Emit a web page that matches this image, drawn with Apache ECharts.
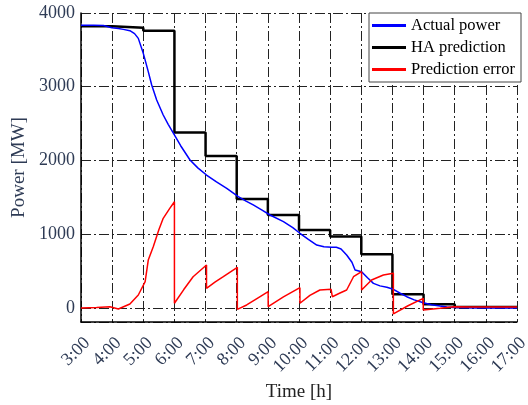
<!DOCTYPE html>
<html>
<head>
<meta charset="utf-8">
<script src="https://cdn.jsdelivr.net/npm/echarts@6/dist/echarts.min.js"></script>
<style>html,body{margin:0;padding:0;background:#fff}#c{width:528px;height:405px}</style>
</head>
<body>
<div id="c"></div>
<script>
// Time in hours, power in MW
const actualT = [3.0, 3.4, 3.72, 3.99, 4.2, 4.36, 4.57, 4.72, 4.84, 5.0, 5.08, 5.16, 5.27, 5.43, 5.64, 5.8, 5.97, 6.2, 6.5, 6.75, 7.03, 7.35, 7.68, 8.05, 8.3, 8.53, 8.8, 9.07, 9.5, 9.8, 10.03, 10.3, 10.57, 10.8, 11.05, 11.2, 11.35, 11.53, 11.7, 11.8, 12.01, 12.2, 12.39, 12.6, 12.82, 13.03, 13.25, 13.46, 13.7, 13.99, 14.25, 14.53, 14.75, 14.96, 15.3, 16.0, 17.0];
const actualP = [3835, 3835, 3830, 3800, 3790, 3778, 3760, 3720, 3656, 3453, 3330, 3205, 3024, 2820, 2617, 2490, 2369, 2200, 2007, 1900, 1803, 1710, 1623, 1510, 1450, 1397, 1330, 1261, 1170, 1090, 1013, 930, 854, 830, 823, 823, 800, 718, 620, 515, 492, 410, 334, 300, 280, 253, 200, 153, 110, 72, 45, 27, 14, 5, 2, 0, 0];

const haT = [3, 4, 5, 6, 7, 8, 9, 10, 11, 12, 13, 14, 15, 17];
const haP = [3820, 3800, 3760, 2380, 2060, 1478, 1261, 1058, 968, 728, 186, 50, 15, 15];

const errT = [3.0, 3.5, 3.93, 4.2, 4.57, 4.84, 5.06, 5.16, 5.32, 5.5, 5.64, 5.85, 6.0, 6.0, 6.3, 6.6, 7.03, 7.03, 7.3, 7.57, 8.02, 8.02, 8.32, 8.7, 9.01, 9.01, 9.5, 10.03, 10.03, 10.35, 10.67, 11.03, 11.07, 11.1, 11.3, 11.53, 11.75, 12.01, 12.01, 12.33, 12.71, 13.03, 13.03, 13.5, 13.99, 13.99, 14.53, 14.96, 15.5, 17.0];
const errP = [0, 5, 18, -14, 54, 176, 357, 650, 831, 1060, 1216, 1350, 1441, 64, 250, 424, 583, 267, 350, 424, 552, -18, 41, 140, 221, 18, 150, 275, 64, 170, 244, 253, 153, 160, 200, 244, 424, 492, 244, 380, 447, 470, -80, 30, 131, -27, -5, 18, 15, 15];

const seriesNames = ['Actual power', 'HA prediction', 'Prediction error'];
const xTickHours = [3, 4, 5, 6, 7, 8, 9, 10, 11, 12, 13, 14, 15, 16, 17];

const pairs = (t, v) => t.map((x, i) => [x, v[i]]);

const chart = echarts.init(document.getElementById('c'), null, {renderer: 'canvas'});
const gridLine = {show: true, lineStyle: {color: '#222', width: 1, type: [10, 3, 2, 3]}};
const serif = 'Liberation Serif';

chart.setOption({
  animation: false,
  backgroundColor: '#fff',
  grid: {left: 81, right: 11, top: 13, bottom: 83, containLabel: false, outerBoundsMode: 'none'},
  legend: {
    orient: 'vertical',
    left: 369, top: 13,
    data: [seriesNames[0], seriesNames[1], seriesNames[2]],
    icon: 'rect', itemWidth: 34, itemHeight: 3, itemGap: 5, itemTextGap: 2,
    padding: [4, 6, 4, 3],
    borderColor: '#444', borderWidth: 1, backgroundColor: '#fff',
    textStyle: {fontFamily: serif, fontSize: 16.5, color: '#000'}
  },
  xAxis: {
    type: 'value', min: 3, max: 17, interval: 1,
    name: 'Time [h]', nameLocation: 'middle', nameGap: 61, nameMoveOverlap: false,
    nameTextStyle: {fontFamily: serif, fontSize: 19, color: '#222'},
    axisLine: {show: true, onZero: false, lineStyle: {color: '#000', width: 1.5}},
    axisTick: {show: false},
    splitLine: gridLine,
    axisLabel: {
      rotate: 45, margin: 12, verticalAlign: 'top',
      showMinLabel: true, showMaxLabel: true, hideOverlap: false,
      fontFamily: serif, fontSize: 18, color: '#2e3b55',
      formatter: v => xTickHours.includes(v) ? v + ':00' : ''
    }
  },
  yAxis: {
    type: 'value', min: -190, max: 4000, splitNumber: 5,
    name: 'Power [MW]', nameLocation: 'middle', nameGap: 50,
    nameTextStyle: {fontFamily: serif, fontSize: 19, color: '#2e3b55'},
    axisLine: {show: true, lineStyle: {color: '#000', width: 1.5}},
    axisTick: {show: false},
    splitLine: gridLine,
    axisLabel: {
      showMinLabel: false, margin: 6,
      fontFamily: serif, fontSize: 18, color: '#2e3b55',
      formatter: v => v < 0 ? '' : String(v)
    }
  },
  series: [
    {name: seriesNames[1], type: 'line', step: 'end', data: pairs(haT, haP), symbol: 'none',
     lineStyle: {color: '#000', width: 2.5}, itemStyle: {color: '#000'}, z: 2},
    {name: seriesNames[0], type: 'line', data: pairs(actualT, actualP), symbol: 'none',
     lineStyle: {color: '#0000ff', width: 1.5}, itemStyle: {color: '#0000ff'}, z: 3},
    {name: seriesNames[2], type: 'line', data: pairs(errT, errP), symbol: 'none',
     lineStyle: {color: '#ff0000', width: 1.5}, itemStyle: {color: '#ff0000'}, z: 4}
  ]
});
</script>
</body>
</html>
